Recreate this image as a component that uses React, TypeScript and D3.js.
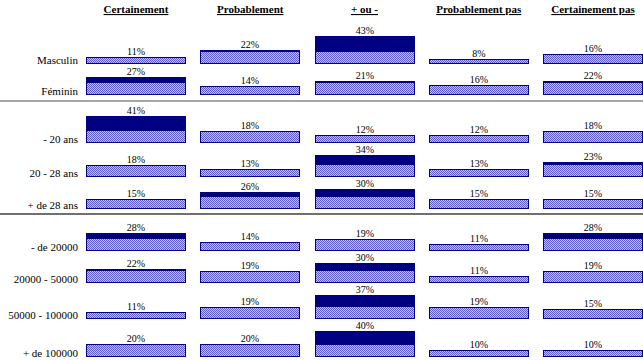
import React, { useEffect, useRef } from 'react';
import * as d3 from 'd3';

const answers = ['Certainement', 'Probablement', '+ ou -', 'Probablement pas', 'Certainement pas'];
const groups = ['Masculin', 'Féminin', '- 20 ans', '20 - 28 ans', '+ de 28 ans', '- de 20000', '20000 - 50000', '50000 - 100000', '+ de 100000'];
const certainement = [11, 27, 41, 18, 15, 28, 22, 11, 20];
const probablement = [22, 14, 18, 13, 26, 14, 19, 19, 20];
const plusOuMoins = [43, 21, 12, 34, 30, 19, 30, 37, 40];
const probablementPas = [8, 16, 12, 13, 15, 11, 11, 19, 10];
const certainementPas = [16, 22, 18, 23, 15, 28, 19, 15, 10];
const series = [certainement, probablement, plusOuMoins, probablementPas, certainementPas];
// row baselines (bottom of bars)
const rowBase = [64, 95, 143, 177, 209, 251, 283, 319, 357];
const separators = [101, 214];

const App = () => {
  const ref = useRef<SVGSVGElement>(null);

  useEffect(() => {
    const width = 643;
    const height = 360;
    const svg = d3.select(ref.current);
    svg.selectAll('*').remove();
    svg.attr('width', width).attr('height', height);

    // dotted fill, low contrast blue/lavender checker
    const defs = svg.append('defs');
    const pat = defs.append('pattern')
      .attr('id', 'chk')
      .attr('width', 2)
      .attr('height', 2)
      .attr('patternUnits', 'userSpaceOnUse');
    pat.append('rect').attr('width', 2).attr('height', 2).attr('fill', '#c4c4f4');
    pat.append('rect').attr('x', 0).attr('y', 0).attr('width', 1).attr('height', 1).attr('fill', '#5c5cd0');
    pat.append('rect').attr('x', 1).attr('y', 1).attr('width', 1).attr('height', 1).attr('fill', '#5c5cd0');

    const x = d3.scaleBand().domain(answers).range([86, 643]).paddingInner(0.125).paddingOuter(0);
    const h = d3.scaleLinear().domain([0, 100]).range([0, 65]);
    const cap = 12;

    const font = 'Liberation Serif, Times New Roman, serif';

    // headers
    svg.append('g').selectAll('text').data(answers).enter().append('text')
      .attr('x', (d) => x(d)! + x.bandwidth() / 2)
      .attr('y', 13)
      .attr('text-anchor', 'middle')
      .style('font-family', font)
      .style('font-size', '11px')
      .style('font-weight', 'bold')
      .style('text-decoration', 'underline')
      .attr('fill', '#000')
      .text((d) => d);

    // separators
    svg.append('g').selectAll('line').data(separators).enter().append('line')
      .attr('x1', 0).attr('x2', width)
      .attr('y1', (d) => d).attr('y2', (d) => d)
      .attr('stroke', (d, i) => (i === 0 ? '#a6a6a6' : '#707070'))
      .attr('stroke-width', 2);

    // row labels
    svg.append('g').selectAll('text').data(groups).enter().append('text')
      .attr('x', 78)
      .attr('y', (d, i) => rowBase[i])
      .attr('text-anchor', 'end')
      .style('font-family', font)
      .style('font-size', '11px')
      .attr('fill', '#000')
      .text((d) => d);

    // bars
    series.forEach((vals, si) => {
      const g = svg.append('g');
      const x0 = Math.round(x(answers[si])!);
      const bw = Math.round(x.bandwidth());
      vals.forEach((v, ri) => {
        const base = rowBase[ri];
        const bh = Math.round(h(v));
        const ph = Math.min(bh, cap);
        if (bh > ph) {
          g.append('rect')
            .attr('x', x0).attr('y', base - bh)
            .attr('width', bw).attr('height', bh - ph)
            .attr('fill', '#000080');
        }
        g.append('rect')
          .attr('x', x0).attr('y', base - ph)
          .attr('width', bw).attr('height', ph)
          .attr('fill', 'url(#chk)');
        g.append('rect')
          .attr('x', x0 + 0.5).attr('y', base - bh + 0.5)
          .attr('width', bw - 1).attr('height', bh - 1)
          .attr('fill', 'none')
          .attr('stroke', '#000080')
          .attr('stroke-width', 1);
        g.append('text')
          .attr('x', x0 + bw / 2)
          .attr('y', base - bh - 2)
          .attr('text-anchor', 'middle')
          .style('font-family', font)
          .style('font-size', '10px')
          .attr('fill', '#000')
          .text(v + '%');
      });
    });
  }, []);

  return (
    <svg ref={ref} style={{ position: 'absolute', left: 0, top: 0, display: 'block' }}></svg>
  );
};

export default App;
